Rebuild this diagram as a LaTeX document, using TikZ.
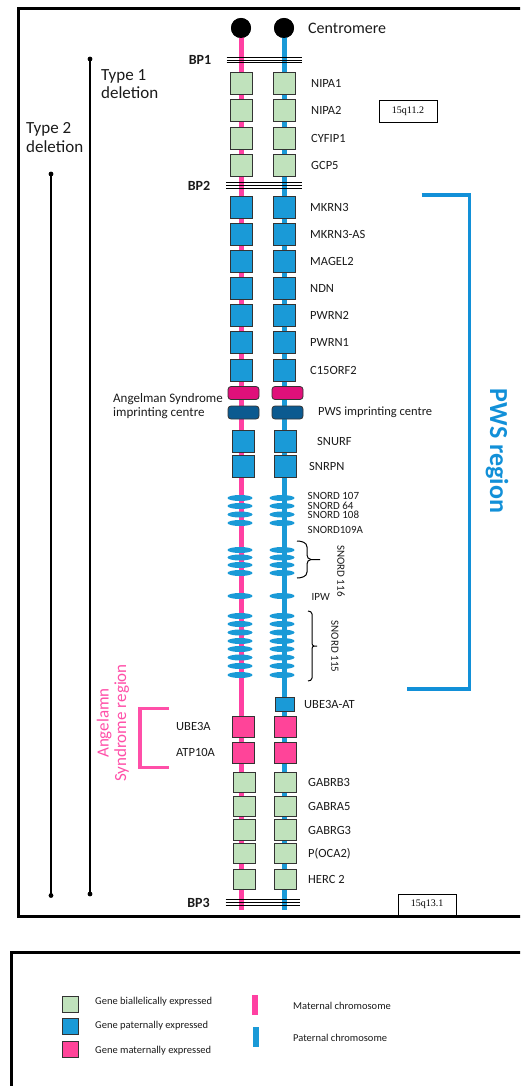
\documentclass[tikz,border=0pt]{standalone}
\usepackage{fontspec}
\setmainfont{Carlito}
\newfontfamily\seriffont{Liberation Serif}
\usetikzlibrary{shapes.geometric}
\definecolor{matline}{HTML}{FF40A2}
\definecolor{patline}{HTML}{1A9AD7}
\definecolor{biall}{HTML}{C0E2BC}
\definecolor{patexp}{HTML}{1A9AD7}
\definecolor{matexp}{HTML}{FF4499}
\definecolor{impink}{HTML}{E0107A}
\definecolor{imblue}{HTML}{0B5A90}
\definecolor{boxborder}{HTML}{333333}
\definecolor{angelpink}{HTML}{FF4FA8}
\definecolor{pwsblue}{HTML}{1290D8}
\definecolor{txt}{HTML}{1A1A1A}
\begin{document}
\begin{tikzpicture}[x=1pt,y=-1pt,
  genebox/.style={draw=boxborder,line width=0.8pt,minimum width=22pt,minimum height=22pt,inner sep=0pt},
  biabox/.style={genebox,fill=biall},
  patbox/.style={genebox,fill=patexp},
  matbox/.style={genebox,fill=matexp},
  imbox/.style={draw=boxborder,line width=0.8pt,rounded corners=3pt,minimum width=31pt,minimum height=13pt,inner sep=0pt},
  snord/.style={ellipse,fill=patexp,minimum width=25pt,minimum height=6pt,inner sep=0pt},
  glabel/.style={anchor=west,inner sep=0pt,text=txt,font=\fontsize{12.5}{14}\selectfont},
  slabel/.style={anchor=west,inner sep=0pt,text=txt,font=\fontsize{11}{12}\selectfont},
  bplabel/.style={inner sep=0pt,text=txt,font=\fontsize{14}{16}\selectfont\bfseries},
  bpline/.style={black,line width=0.9pt},
  chrom/.style={line width=5pt},
  typeline/.style={black,line width=1.3pt},
  typelabel/.style={anchor=west,align=left,inner sep=0pt,text=txt,font=\fontsize{17}{18.5}\selectfont},
  bandbox/.style={draw=black,line width=0.8pt,fill=white,minimum width=58pt,minimum height=22pt,inner sep=0pt,font=\seriffont\fontsize{10}{12}\selectfont},
  frame/.style={black,line width=3pt},
  legtext/.style={anchor=west,inner sep=0pt,text=txt,font=\fontsize{10.5}{12}\selectfont},
  brace/.style={black,line width=1pt}
]
\useasboundingbox (0,0) rectangle (520,1086);
\clip (0,0) rectangle (520,1086);

% band boxes (below frame)
\node[bandbox] (b1) at (408,111) {15q11.2};
\node[bandbox,minimum height=21pt] (b2) at (427,904.5) {15q13.1};

% frames
\draw[frame] (18,9) rectangle (540,916);
\draw[frame] (11.5,952) rectangle (540,1110);

% deletion lines
\coordinate (t1a) at (90,59);
\coordinate (t1b) at (90,894);
\coordinate (t2a) at (51,174);
\coordinate (t2b) at (51,895.5);
\draw[typeline] (t1a) -- (t1b);
\draw[typeline] (t2a) -- (t2b);
\foreach \c in {t1a,t1b,t2a,t2b} \fill (\c) circle (2.4pt);
\node[typelabel] (ty1) at (101,84) {Type 1\\deletion};
\node[typelabel] (ty2) at (26,137.5) {Type 2\\deletion};

% centromeres and chromosomes
\node[circle,fill=black,minimum size=20pt,inner sep=0pt] (cm) at (241,28) {};
\node[circle,fill=black,minimum size=20pt,inner sep=0pt] (cp) at (284,28) {};
\coordinate (em) at (241,910);
\coordinate (ep) at (284,910);
\draw[chrom,matline] (cm.center) -- (em);
\draw[chrom,patline] (cp.center) -- (ep);
\node[circle,fill=black,minimum size=20pt,inner sep=0pt] at (241,28) {};
\node[circle,fill=black,minimum size=20pt,inner sep=0pt] at (284,28) {};
\node[anchor=west,inner sep=0pt,text=txt,font=\fontsize{16}{18}\selectfont] (cen) at (308,28) {Centromere};

% top biallelic genes
\foreach \i/\y/\t in {1/83/NIPA1,2/110.5/NIPA2,3/138/CYFIP1,4/165.5/GCP5}{
  \node[biabox] (tm\i) at (241,\y) {};
  \node[biabox] (tp\i) at (284,\y) {};
  \node[glabel] (tl\i) at (311,\y) {\t};
}

% paternally expressed
\foreach \i/\y/\t in {1/207/MKRN3,2/234/MKRN3-AS,3/261/MAGEL2,4/288/NDN,5/315/PWRN2,6/342/PWRN1,7/370/C15ORF2}{
  \node[patbox] (pm\i) at (241,\y) {};
  \node[patbox] (pp\i) at (284,\y) {};
  \node[glabel] (pl\i) at (310,\y) {\t};
}

% imprinting centres
\node[imbox,fill=impink] (asm) at (243.5,393) {};
\node[imbox,fill=impink] (asp) at (287.5,393) {};
\node[imbox,fill=imblue] (pwm) at (243.5,412.5) {};
\node[imbox,fill=imblue] (pwp) at (287.5,412.5) {};
\node[anchor=west,align=left,inner sep=0pt,text=txt,font=\fontsize{13}{14}\selectfont] (asl) at (113,406) {Angelman Syndrome\\imprinting centre};
\node[glabel] (pwl) at (318,412.5) {PWS imprinting centre};

% SNURF / SNRPN
\node[patbox] (sfm) at (243,441) {};
\node[patbox] (sfp) at (285,441) {};
\node[glabel] (sfl) at (317,441) {SNURF};
\node[patbox] (snm) at (243,466) {};
\node[patbox] (snp) at (285,466) {};
\node[glabel] (snl) at (309,466) {SNRPN};

% snoRNAs
\foreach \i/\y in {1/498,2/506,3/514.5,4/523,5/550,6/557.5,7/565,8/573,9/596,10/616,11/624,12/632.5,13/641,14/649,15/657.5,16/666,17/675}{
  \node[snord] (sm\i) at (240,\y) {};
  \node[snord] (sp\i) at (282,\y) {};
}
\node[slabel] (s107) at (307.5,496) {SNORD 107};
\node[slabel] (s64) at (307.5,505.5) {SNORD 64};
\node[slabel] (s108) at (307.5,515) {SNORD 108};
\node[slabel] (s109) at (307.5,530) {SNORD109A};
\node[slabel] (ipw) at (311.5,597) {IPW};
% braces
\draw[brace] (297,541) to[out=0,in=90] (307,547) -- (307,555) to[out=-90,in=180] (311,559.5) -- (320,559.5);
\draw[brace] (297,578) to[out=0,in=-90] (307,572) -- (307,564) to[out=90,in=180] (311,559.5);
\draw[brace] (308,611) to[out=0,in=90] (312,614) -- (312,643) to[out=-90,in=180] (314,646) -- (317,646);
\draw[brace] (308,681) to[out=0,in=-90] (312,678) -- (312,649) to[out=90,in=180] (314,646);
\node[rotate=-90,inner sep=0pt,text=txt,font=\fontsize{11}{12}\selectfont] (s116) at (341,571) {SNORD 116};
\node[rotate=-90,inner sep=0pt,text=txt,font=\fontsize{11}{12}\selectfont] (s115) at (335,646.5) {SNORD 115};

% UBE3A-AT
\node[genebox,fill=patexp,minimum width=19pt,minimum height=14pt] (uat) at (284.5,704) {};
\node[glabel] (uatl) at (304,704) {UBE3A-AT};

% maternally expressed
\foreach \i/\y/\t in {1/726.5/UBE3A,2/752.5/ATP10A}{
  \node[matbox,minimum height=21pt] (mm\i) at (243,\y) {};
  \node[matbox,minimum height=21pt] (mp\i) at (285.5,\y) {};
  \node[glabel] (ml\i) at (176,\y) {\t};
}

% bottom biallelic genes
\foreach \i/\y/\t in {1/782.5/GABRB3,2/806.5/GABRA5,3/830/GABRG3,4/853.5/P(OCA2),5/879.5/HERC 2}{
  \node[biabox,minimum height=20.5pt] (bm\i) at (244,\y) {};
  \node[biabox,minimum height=20.5pt] (bp\i) at (285.5,\y) {};
  \node[glabel] (bl\i) at (308,\y) {\t};
}

% breakpoints
\foreach \y/\n/\x/\xa/\xb in {60/BP1/200/226.5/302,185.5/BP2/199/226/302,902.5/BP3/198.5/225.5/300}{
  \draw[bpline] (\xa,\y-2.6) -- (\xb,\y-2.6);
  \draw[bpline] (\xa,\y) -- (\xb,\y);
  \draw[bpline] (\xa,\y+2.6) -- (\xb,\y+2.6);
  \node[bplabel] at (\x,\y) {\n};
}

% PWS region bracket
\draw[pwsblue,line width=3.5pt] (421.5,195) -| (469.5,689) -- (406.5,689);
\node[rotate=-90,inner sep=0pt,text=pwsblue,font=\fontsize{26}{28}\selectfont\bfseries] (pws) at (497,451) {PWS region};

% Angelman region bracket
\draw[angelpink,line width=3.5pt] (169,708.5) -| (140,767.5) -- (169,767.5);
\node[rotate=90,align=center,inner sep=0pt,text=angelpink,font=\fontsize{17}{17.5}\selectfont] (asr) at (113,723) {Angelamn\\Syndrome region};

% legend
\node[genebox,fill=biall,minimum width=16pt,minimum height=16pt] (lg1) at (70,1004) {};
\node[genebox,fill=patexp,minimum width=16pt,minimum height=16pt] (lg2) at (70,1026.5) {};
\node[genebox,fill=matexp,minimum width=16pt,minimum height=16pt] (lg3) at (70,1049.5) {};
\node[legtext] (lt1) at (95,1002) {Gene biallelically expressed};
\node[legtext] (lt2) at (95,1026) {Gene paternally expressed};
\node[legtext] (lt3) at (95,1050.5) {Gene maternally expressed};
\node[fill=matline,minimum width=6pt,minimum height=20pt,inner sep=0pt] (lb1) at (255,1005) {};
\node[fill=patline,minimum width=6pt,minimum height=20pt,inner sep=0pt] (lb2) at (256,1037) {};
\node[legtext] (lt4) at (293,1005.5) {Maternal chromosome};
\node[legtext] (lt5) at (293,1038) {Paternal chromosome};
\end{tikzpicture}
\end{document}
